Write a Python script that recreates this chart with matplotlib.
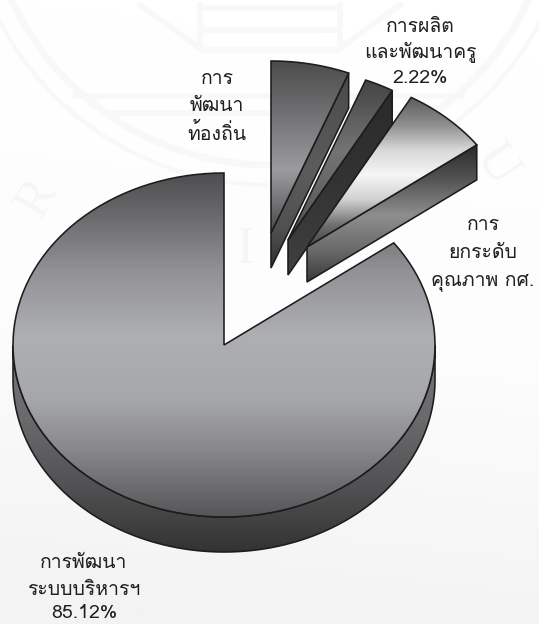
import numpy as np
import matplotlib
matplotlib.use("Agg")
import matplotlib.pyplot as plt
from matplotlib.path import Path
from matplotlib.patches import PathPatch
from matplotlib.colors import LinearSegmentedColormap

# ---- data ----
slice_names = ["การพัฒนาท้องถิ่น", "การผลิตและพัฒนาครู", "การยกระดับคุณภาพ กศ.", "การพัฒนาระบบบริหารฯ"]
shares = [6.0, 2.22, 6.66, 85.12]
label_main = ["การพัฒนา", "ระบบบริหารฯ", "85.12%"]
label_local = ["การ", "พัฒนา", "ท้องถิ่น"]
label_teacher = ["การผลิต", "และพัฒนาครู", "2.22%"]
label_quality = ["การ", "ยกระดับ", "คุณภาพ กศ."]

# ---- layout / style ----
W, H = 539, 624
CX, CY, RX, RY, DEPTH = 224, 345, 211, 172, 35
OFFSETS = [(47, -112), (64, -105), (83, -98), (0, 0)]
EDGE = "#1c1c1c"
FACE_STOPS = [
    [(61, "#4c4c4c"), (110, "#6e6e70"), (170, "#9c9c9e"), (205, "#707072"), (233, "#484848")],
    [(78, "#424242"), (150, "#747476"), (200, "#626264"), (240, "#484848")],
    [(98, "#5e5e5e"), (125, "#8f8f8f"), (150, "#d8d8d8"), (175, "#f6f6f6"), (200, "#d0d0d0"), (225, "#707070"), (247, "#444444")],
    [(173, "#4e4e50"), (215, "#6a6a6c"), (270, "#929296"), (335, "#aeafb3"), (400, "#a6a7ab"), (450, "#88888a"), (517, "#565658")],
]
WALL_STOPS = [
    [(73, "#4a4a4a"), (170, "#5c5c5c"), (230, "#505050"), (268, "#303030")],
    [(88, "#2a2a2a"), (180, "#333333"), (273, "#404040")],
    [(146, "#2c2c2c"), (180, "#555555"), (215, "#8e8e8e"), (250, "#6a6a6a"), (283, "#383838")],
    [(345, "#767678"), (420, "#6a6a6c"), (490, "#505052"), (552, "#333333")],
]


def ellipse_pts(t0, t1, ox, oy, dy=0, n=120):
    t = np.radians(np.linspace(t0, t1, n))
    return np.c_[CX + ox + RX * np.sin(t), CY + oy + dy - RY * np.cos(t)]


def gradient(ax, stops, patch):
    ys = np.array([s[0] for s in stops], float)
    y0, y1 = ys[0], ys[-1]
    cmap = LinearSegmentedColormap.from_list(
        "g", [((y - y0) / (y1 - y0), c) for y, c in stops])
    im = ax.imshow(np.linspace(0, 1, 512)[:, None], cmap=cmap, vmin=0, vmax=1,
                   extent=(0, W, y1, y0), aspect="auto", zorder=patch.get_zorder(),
                   interpolation="bilinear")
    im.set_clip_path(patch)


def closed_patch(ax, pts, z):
    verts = np.vstack([pts, pts[0]])
    codes = [Path.MOVETO] + [Path.LINETO] * (len(pts) - 1) + [Path.CLOSEPOLY]
    p = PathPatch(Path(verts, codes), fc="none", ec=EDGE, lw=1.15, zorder=z,
                  joinstyle="miter")
    return p


fig = plt.figure(figsize=(W / 100, H / 100), dpi=100)
ax = fig.add_axes([0, 0, 1, 1])

# page background: white drifting to a pale grey towards the bottom
bg = LinearSegmentedColormap.from_list("bg", ["#ffffff", "#fdfdfd", "#f3f3f3"])
yy, xx = np.mgrid[0:1:200j, 0:1:200j]
ax.imshow(np.clip(yy * 1.05 - 0.1 * xx, 0, 1), cmap=bg, vmin=0, vmax=1,
          extent=(0, W, H, 0), aspect="auto", zorder=0)

# faint seal watermark
WM = "#f8f8f8"
for r, lw in ((285, 5), (305, 3)):
    t = np.radians(np.linspace(25, 155, 200))
    ax.plot(270 + r * np.cos(t), -120 + r * np.sin(t), color=WM, lw=lw, zorder=1)
t = np.radians(np.linspace(150, 210, 100))
ax.plot(270 + 345 * np.cos(t), 240 + 345 * np.sin(t), color=WM, lw=4, zorder=1)
for y, x0, x1 in ((96, 73, 465), (113, 100, 440), (50, 200, 340), (30, 200, 340), (8, 200, 340)):
    ax.plot([x0, x1], [y, y], color=WM, lw=4, zorder=1, solid_capstyle="butt")
ax.plot([140, 200, 200], [5, 48, 5], color=WM, lw=4, zorder=1)
ax.plot([400, 340, 340], [5, 48, 5], color=WM, lw=4, zorder=1)
for s, x, y, rot in (("R", 38, 198, 60), ("B", 195, 248, 0), ("I", 245, 250, 0), ("U", 497, 165, -55)):
    ax.text(x, y, s, fontsize=38, family="Liberation Serif", color="#f6f6f6",
            rotation=rot, ha="center", va="center", zorder=1)

# pie
angles = np.concatenate([[0], np.cumsum(shares) / np.sum(shares) * 360])
order = [3, 0, 1, 2]
z = 3
for i in order:
    t0, t1 = angles[i], angles[i + 1]
    ox, oy = OFFSETS[i]
    apex = np.array([[CX + ox, CY + oy]])
    if i == 3:
        # only the front rim of the big slice is seen
        top = ellipse_pts(90, 270, ox, oy)
        bot = ellipse_pts(270, 90, ox, oy, DEPTH)
        wall = np.vstack([top, bot])
    else:
        e = ellipse_pts(t1, t1, ox, oy, n=1)
        wall = np.vstack([apex, e, e + [0, DEPTH], apex + [0, DEPTH]])
    wp = closed_patch(ax, wall, z)
    ax.add_patch(wp)
    gradient(ax, WALL_STOPS[i], wp)
    wp.set_zorder(z + 0.1)
    face = np.vstack([apex, ellipse_pts(t0, t1, ox, oy)])
    fp = closed_patch(ax, face, z + 0.2)
    ax.add_patch(fp)
    gradient(ax, FACE_STOPS[i], fp)
    fp.set_zorder(z + 0.3)
    z += 1

# labels
for lines, x, ys in ((label_main, 84, (563, 590, 613)),
                     (label_local, 217, (79, 106, 133)),
                     (label_teacher, 420, (27, 52, 78)),
                     (label_quality, 483, (225, 253, 282))):
    for s, y in zip(lines, ys):
        ax.text(x, y, s, family=["Loma", "Liberation Sans"], fontsize=14, color="#1f1f1f",
                ha="center", va="center", zorder=20)

ax.set_xlim(0, W)
ax.set_ylim(H, 0)
ax.axis("off")
fig.savefig("out.png", dpi=100)
